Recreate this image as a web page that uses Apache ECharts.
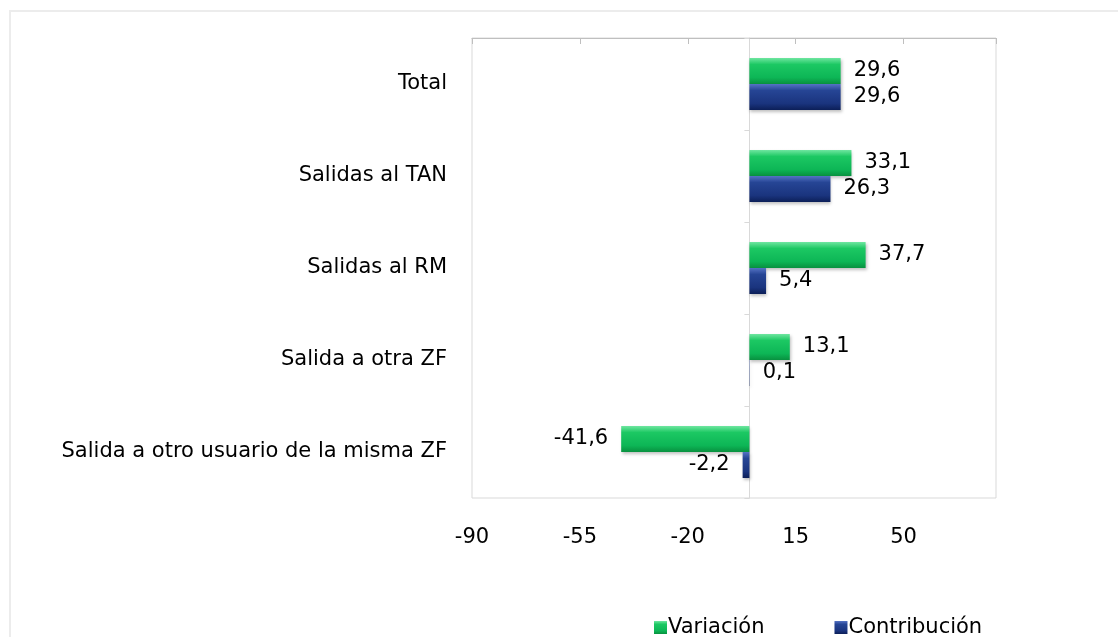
<!DOCTYPE html>
<html lang="es">
<head>
    <meta charset="UTF-8">
    <title>Variación y contribución</title>
    <script src="https://cdn.jsdelivr.net/npm/echarts@6/dist/echarts.min.js"></script>
    <style>
        html, body {margin: 0; padding: 0; background: #fff;}
    </style>
</head>
<body>
<div id="main" style="width: 1118px;height:637px;"></div>
<script type="text/javascript">
    // datos
    var categorias = ['Total', 'Salidas al TAN', 'Salidas al RM', 'Salida a otra ZF', 'Salida a otro usuario de la misma ZF'];
    var variacion = [29.6, 33.1, 37.7, 13.1, -41.6];
    var contribucion = [29.6, 26.3, 5.4, 0.1, -2.2];
    var ejeTicks = [-90, -55, -20, 15, 50];

    var fuente = '"DejaVu Sans", "Open Sans", sans-serif';
    var tam = 21;

    function coma(v) {
        return String(v).replace('.', ',');
    }

    // etiqueta a la derecha o a la izquierda según el signo
    function etiquetas(arr) {
        return arr.map(function (v) {
            return {
                value: v,
                label: {position: v < 0 ? 'left' : 'right'}
            };
        });
    }

    var verde = new echarts.graphic.LinearGradient(0, 0, 0, 1, [
        {offset: 0, color: '#6fe6a0'},
        {offset: 0.25, color: '#1cc863'},
        {offset: 0.75, color: '#0db656'},
        {offset: 1, color: '#08913f'}
    ]);
    var azul = new echarts.graphic.LinearGradient(0, 0, 0, 1, [
        {offset: 0, color: '#5573c4'},
        {offset: 0.25, color: '#264595'},
        {offset: 0.75, color: '#1a347e'},
        {offset: 1, color: '#0c1f58'}
    ]);

    var myChart = echarts.init(document.getElementById('main'));
    var option = {
        backgroundColor: '#fff',
        animation: false,
        graphic: [{
            type: 'rect',
            shape: {x: 10, y: 11, width: 1200, height: 700},
            style: {fill: 'none', stroke: '#ececec', lineWidth: 2},
            silent: true,
            z: -1
        }],
        legend: {
            left: 649,
            top: 612,
            itemWidth: 13,
            itemHeight: 13,
            itemGap: 70,
            icon: 'rect',
            textStyle: {fontFamily: fuente, fontSize: tam, color: '#000', padding: [0, 0, 0, -4]},
            data: ['Variación', 'Contribución']
        },
        grid: {
            left: 472,
            right: 122,
            top: 38,
            bottom: 139,
            show: true,
            borderColor: '#d9d9d9',
            borderWidth: 1
        },
        xAxis: [
            {
                type: 'value',
                position: 'bottom',
                min: -90,
                max: 80,
                interval: 35,
                axisLine: {show: false},
                axisTick: {show: false},
                splitLine: {show: false},
                axisLabel: {
                    margin: 29,
                    fontFamily: fuente,
                    fontSize: tam,
                    color: '#000',
                    formatter: function (v) {
                        return ejeTicks.indexOf(v) >= 0 ? String(v) : '';
                    }
                }
            },
            {
                type: 'value',
                position: 'top',
                min: -90,
                max: 80,
                interval: 35,
                axisLine: {show: true, lineStyle: {color: '#bfbfbf', width: 1}},
                axisTick: {show: true, inside: true, length: 6, lineStyle: {color: '#bfbfbf'}},
                axisLabel: {show: false},
                splitLine: {show: false}
            }
        ],
        yAxis: [
            {
                type: 'category',
                inverse: true,
                data: categorias,
                axisLine: {show: false, onZero: false},
                axisTick: {show: false},
                axisLabel: {
                    margin: 25,
                    fontFamily: fuente,
                    fontSize: tam,
                    color: '#000'
                }
            },
            {
                // eje en el cero, solo línea y marcas
                type: 'category',
                inverse: true,
                position: 'left',
                data: categorias,
                axisLine: {show: true, onZero: true, lineStyle: {color: '#d9d9d9'}},
                axisTick: {show: true, length: 5, lineStyle: {color: '#d9d9d9'}},
                axisLabel: {show: false}
            }
        ],
        series: [
            {
                name: 'Variación',
                type: 'bar',
                barWidth: 26,
                barGap: '0%',
                itemStyle: {
                    color: verde,
                    shadowColor: 'rgba(0,0,0,0.25)',
                    shadowBlur: 3,
                    shadowOffsetX: 1,
                    shadowOffsetY: 2
                },
                label: {
                    show: true,
                    distance: 13,
                    fontFamily: fuente,
                    fontSize: tam,
                    color: '#000',
                    formatter: function (p) { return coma(p.value); }
                },
                data: etiquetas(variacion)
            },
            {
                name: 'Contribución',
                type: 'bar',
                barWidth: 26,
                barGap: '0%',
                itemStyle: {
                    color: azul,
                    shadowColor: 'rgba(0,0,0,0.25)',
                    shadowBlur: 3,
                    shadowOffsetX: 1,
                    shadowOffsetY: 2
                },
                label: {
                    show: true,
                    distance: 13,
                    fontFamily: fuente,
                    fontSize: tam,
                    color: '#000',
                    formatter: function (p) { return coma(p.value); }
                },
                data: etiquetas(contribucion)
            }
        ]
    };
    myChart.setOption(option);
</script>
</body>
</html>
